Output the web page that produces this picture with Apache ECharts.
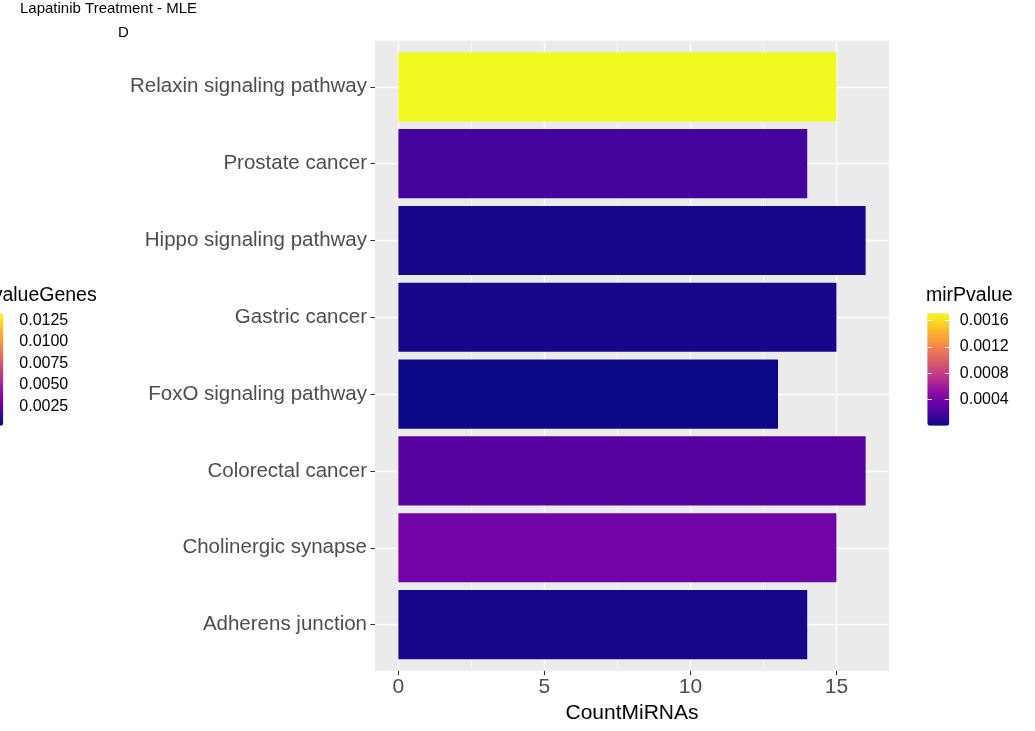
<!DOCTYPE html>
<html>
<head>
<meta charset="utf-8">
<script src="https://cdn.jsdelivr.net/npm/echarts@6/dist/echarts.min.js"></script>
<style>
  html, body { margin: 0; padding: 0; background: #ffffff; }
  #chart { width: 1035px; height: 731px; }
</style>
</head>
<body>
<div id="chart"></div>
<script>
// Enriched KEGG pathways, top to bottom
const pathways = [
  'Relaxin signaling pathway',
  'Prostate cancer',
  'Hippo signaling pathway',
  'Gastric cancer',
  'FoxO signaling pathway',
  'Colorectal cancer',
  'Cholinergic synapse',
  'Adherens junction'
];
const countMiRNAs = [15, 14, 16, 15, 13, 16, 15, 14];
const mirPvalue = [0.00171, 0.00019, 0.000036, 0.00003, 0.000002, 0.00026, 0.00038, 0.000036];

// Axis and colour-bar ticks
const xTicks = [0, 5, 10, 15];
const xMinorTicks = [2.5, 7.5, 12.5];
const mirTicks = [0.0004, 0.0008, 0.0012, 0.0016];
const genesTicks = [0.0025, 0.0050, 0.0075, 0.0100, 0.0125];
const mirRange = [0.000002, 0.00171];
const genesRange = [0.00023, 0.0133];

// viridis "plasma" palette
const plasma = ['#0d0887', '#41049d', '#6a00a8', '#8f0da4', '#b12a90', '#cc4778',
                '#e16462', '#f2844b', '#fca636', '#fcce25', '#f0f921'];

const FONT = '"Liberation Sans", Arial, Helvetica, sans-serif';
const xMax = Math.max(...countMiRNAs);
const xPad = xMax * 0.05;
const xMinLim = -xPad, xMaxLim = xMax + xPad;

const chart = echarts.init(document.getElementById('chart'), null, { renderer: 'canvas' });

function legendAxes(gridIndex, range, ticks) {
  const common = {
    gridIndex: gridIndex, type: 'value', min: range[0], max: range[1], z: 10,
    axisLine: { show: false, onZero: false }, splitLine: { show: false },
    axisTick: { show: true, inside: true, length: 4.4, customValues: ticks,
                lineStyle: { color: '#ffffff', width: 1 } }
  };
  return [
    Object.assign({}, common, {
      position: 'right',
      axisLabel: { show: true, customValues: ticks, margin: 10.5, fontSize: 16,
                   color: '#000000', fontFamily: FONT,
                   formatter: v => v.toFixed(4) }
    }),
    Object.assign({}, common, { position: 'left', axisLabel: { show: false } })
  ];
}

const option = {
  animation: false,
  textStyle: { fontFamily: FONT },
  grid: [
    // bar area (category bands)
    { left: 375, right: 146, top: 48.4, bottom: 68, containLabel: false },
    // full panel with grey background
    { left: 375, right: 146, top: 40.7, bottom: 60.3, show: true,
      backgroundColor: '#ebebeb', borderWidth: 0, z: 0 },
    // mirPvalue colour bar
    { left: 927.3, top: 313.3, width: 22, height: 112.4 },
    // pvalueGenes colour bar
    { left: -18.7, top: 313.3, width: 22, height: 112.4 }
  ],
  xAxis: [
    { gridIndex: 0, type: 'value', min: xMinLim, max: xMaxLim, show: false },
    { gridIndex: 1, type: 'value', min: xMinLim, max: xMaxLim, position: 'bottom', z: 5,
      axisLine: { show: false, onZero: false },
      axisTick: { show: true, customValues: xTicks, length: 4.5,
                  lineStyle: { color: '#333333', width: 1.1 } },
      axisLabel: { show: true, customValues: xTicks, fontSize: 21, color: '#4d4d4d',
                   margin: 6, fontFamily: FONT },
      splitLine: { show: false },
      name: 'CountMiRNAs', nameLocation: 'middle', nameGap: 30,
      nameTextStyle: { fontSize: 21, color: '#000000', fontFamily: FONT } },
    { gridIndex: 2, type: 'value', min: 0, max: 1, show: false },
    { gridIndex: 3, type: 'value', min: 0, max: 1, show: false }
  ],
  yAxis: [
    { gridIndex: 0, type: 'category', data: pathways, inverse: true, z: 5,
      position: 'left',
      axisLine: { show: false, onZero: false },
      axisTick: { show: true, alignWithLabel: true, length: 4.5,
                  lineStyle: { color: '#333333', width: 1.1 } },
      axisLabel: { fontSize: 20.5, color: '#4d4d4d', margin: 8, fontFamily: FONT,
                   padding: [3, 0, 0, 0] },
      splitLine: { show: false } },
    { gridIndex: 1, type: 'value', min: 0, max: 1, show: false },
    ...legendAxes(2, mirRange, mirTicks),
    ...legendAxes(3, genesRange, genesTicks)
  ],
  visualMap: [
    { type: 'continuous', seriesIndex: 0, dimension: 2,
      min: mirRange[0], max: mirRange[1], inRange: { color: plasma },
      calculable: false, hoverLink: false, orient: 'vertical',
      left: 927.3, top: 313.3, itemWidth: 22, itemHeight: 112.4, padding: 0, z: 1 },
    { type: 'continuous', seriesIndex: 1,
      min: genesRange[0], max: genesRange[1], inRange: { color: plasma },
      calculable: false, hoverLink: false, orient: 'vertical',
      left: -18.7, top: 313.3, itemWidth: 22, itemHeight: 112.4, padding: 0, z: 1 }
  ],
  series: [
    {
      type: 'bar', xAxisIndex: 0, yAxisIndex: 0, z: 2, silent: true,
      barWidth: '90%',
      data: pathways.map((p, i) => [countMiRNAs[i], p, mirPvalue[i]]),
      encode: { x: 0, y: 1 },
      markLine: {
        silent: true, symbol: 'none', z: 1, animation: false,
        label: { show: false },
        lineStyle: { color: '#ffffff', width: 1.3, type: 'solid' },
        data: pathways.map(p => ({ yAxis: p }))
      }
    },
    {
      type: 'line', xAxisIndex: 1, yAxisIndex: 1, z: 1, silent: true, data: [],
      markLine: {
        silent: true, symbol: 'none', z: 1, animation: false,
        label: { show: false },
        data: xTicks.map(v => ({ xAxis: v, lineStyle: { color: '#ffffff', width: 1.3, type: 'solid' } }))
          .concat(xMinorTicks.map(v => ({ xAxis: v, lineStyle: { color: '#ffffff', width: 0.65, type: 'solid' } })))
      }
    }
  ],
  graphic: [
    { type: 'text', x: 20, y: 9.3, silent: true,
      style: { text: 'Lapatinib Treatment - MLE', font: '15px ' + FONT, fill: '#000000', verticalAlign: 'middle' } },
    { type: 'text', x: 118, y: 32.7, silent: true,
      style: { text: 'D', font: '15px ' + FONT, fill: '#000000', verticalAlign: 'middle' } },
    { type: 'text', x: 926, y: 295.7, silent: true,
      style: { text: 'mirPvalue', font: '19.5px ' + FONT, fill: '#000000', verticalAlign: 'middle' } },
    { type: 'text', x: 96.7, y: 295.7, silent: true,
      style: { text: 'pvalueGenes', font: '19.5px ' + FONT, fill: '#000000', align: 'right', verticalAlign: 'middle' } }
  ]
};

chart.setOption(option);
</script>
</body>
</html>
